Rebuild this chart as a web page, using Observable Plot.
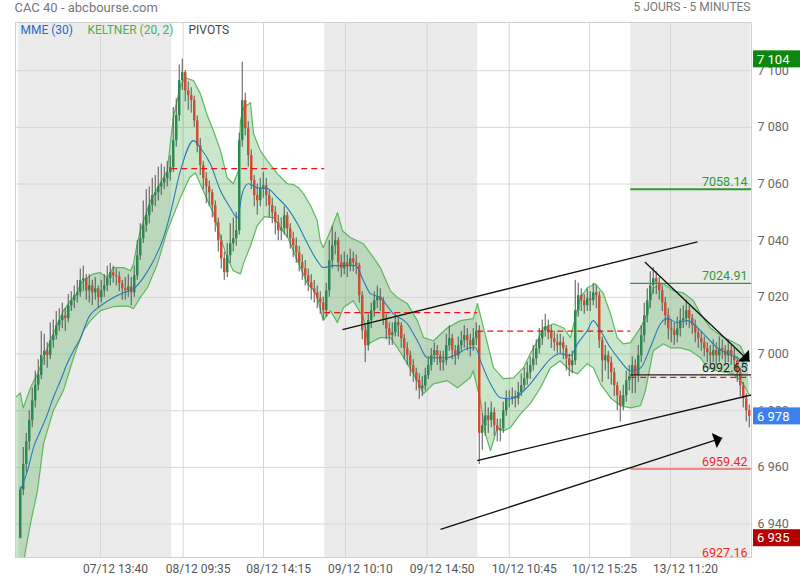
<!DOCTYPE html>
<html><head><meta charset="utf-8">
<script src="https://cdn.jsdelivr.net/npm/d3@7"></script>
<script src="https://cdn.jsdelivr.net/npm/@observablehq/plot@0.6"></script>
<style>
body{margin:0;background:#fff;font-family:Roboto,"Liberation Sans",sans-serif;}
#chart{width:800px;height:580px;}
</style></head><body><div id="chart"></div>
<script>
// ---------- DATA (10-minute candles, index j = candle number) ----------
const firstOpen = 6935;
const closes = [
 6952,6961,6969,6976.5,6983.5,6989,6992.5,6999.5,7001,6999.5,7004.7,7006.5,7010,7011.8,7013.5,7012.5,7017,7018.8,7020.6,7021.6,7025.9,7026.6,7022.3,7024.1,7021.6,7023,7019.9,7022.3,7024.1,7026.6,7028.7,7027.6,7027.3,7024.8,7023,7022.3,7023.7,7021.6,7027.6,7034.7,7040.7,7045.3,7048.8,7052.4,7055.9,7056.9,7059,7060.4,7061.9,7064,7065.8,
 7075.3,7084.1,7096.5,7099.3,7092.9,7091.2,7089.4,7082.3,7073.5,7066.5,7061.9,7059,7056.9,7052.4,7046.4,7040,7033.6,7028.7,7034.7,7038.9,7040.7,7043.5,7075.3,7089.4,7079.5,7070,7061.2,7055.9,7054.1,7058.4,7059.4,7055.9,7052.4,7049.9,7046.4,7043.5,7044.2,7048.8,7044.2,7040.7,7038.2,7035.7,7032.2,7030.1,7027.6,7025.2,7023,7021.6,7019.5,7018.1,7015.3,
 7022.3,7032.9,7038.2,7040,7032.2,7030.1,7032.2,7031.2,7033.6,7032.2,7031.2,7020.6,7008.2,7002.9,7011.8,7015.3,7018.8,7020.2,7018.8,7012.5,7008.9,7006.5,7007.5,7011.1,7010,7005.4,7001.9,6999.4,6995.9,6993.4,6990.6,6987.8,6988.8,6992.4,6995.9,6999.4,7001.2,6999.4,6996.9,6997.6,7002.9,7005.4,7001.2,6999.4,7002.9,7004.7,7006.5,7004.7,7002.9,7005.4,7008,
 6972,6974.7,6978.2,6976.5,6979.3,6974.7,6972.9,6973.6,6980,6984.2,6984.2,6984.9,6984.2,6986.4,6988.8,6991.3,6993.4,6995.9,6998.3,7001.9,7005.4,7008.2,7009.6,7007.5,7005.4,7004,7002.9,7004,7001.9,6998.3,6995.9,6997.6,7015.3,7020.6,7018.8,7017,7019.5,7018.8,7021.6,7020.6,7004.7,6997.6,6999.4,6996.9,6993.4,6988.8,6985.3,6981.8,6985.3,6990.6,6992,
 6995.9,6992.4,6999.4,7006.5,7013.5,7018.8,7024.1,7026.6,7025.2,7022.3,7018.1,7013.5,7008.9,7008.2,7006.5,7008.9,7011.8,7012.5,7015.3,7012.5,7010,7007.5,7005.4,7004,7001.9,7000.5,6999.4,7001.2,6999.4,7001.9,7001.2,6999.4,7001.2,6999.4,6997.6,6993.4,6988.8,6984.2,6980,6978
];
const highs = [
 6953,6967,6972,6980,6988,6994,6998,7008,7007,7004,7011,7012,7015,7016,7018,7016,7021,7022,7024,7026,7030,7031,7028,7028,7026,7027,7024,7026,7028,7031,7032,7031,7030,7029,7026,7027,7028,7027,7031,7040,7046,7054,7058,7059,7062,7063,7066,7067,7066,7068,7070,
 7087,7090,7102,7104,7100,7096,7094,7091,7084,7076,7068,7064,7061,7058,7054,7048,7042,7036,7039,7046,7048,7050,7078,7103,7092,7082,7072,7063,7060,7062,7064,7062,7058,7055,7052,7049,7048,7052,7050,7046,7043,7041,7038,7035,7033,7030,7028,7026,7024,7022,7020,
 7025,7040,7045,7043,7041,7035,7036,7035,7037,7036,7035,7032,7022,7010,7014,7018,7022,7024,7023,7020,7014,7011,7011,7014,7013,7011,7007,7004,7001,6998,6995,6993,6992,6995,6999,7002,7004,7003,7001,7001,7007,7010,7007,7003,7006,7008,7010,7009,7007,7009,7011,
 7010,6979,6983,6981,6983,6981,6977,6977,6983,6987,6987,6988,6987,6990,6993,6995,6997,6999,7003,7005,7009,7012,7014,7012,7010,7008,7007,7007,7006,7003,7000,7001,7026,7025,7023,7021,7023,7022,7025,7024,7022,7006,7003,7001,6999,6995,6990,6987,6989,6994,6996,
 6999,6998,7003,7010,7018,7023,7029,7030.5,7029,7027,7024,7020,7016,7012,7011,7013,7016,7017,7019,7017,7014,7012,7009,7008,7006,7004,7003,7005,7004,7006,7005,7003,7005,7003,7002,6999,6995,6990,6986,6982
];
const lows = [
 6934.8,6950,6958,6966,6974,6981,6987,6991,6996,6995,6998,7002,7005,7008,7009,7008,7011,7015,7016,7018,7020,7022,7019,7018,7017,7019,7016,7018,7020,7022,7024,7025,7024,7022,7019,7019,7020,7017,7020,7026,7033,7039,7043,7046,7050,7052,7054,7056,7058,7059,7061,
 7064,7073,7082,7093,7089,7086,7085,7080,7071,7063,7058,7053,7052,7048,7043,7036,7030,7026,7027,7032,7036,7038,7042,7073,7077,7066,7058,7052,7049,7052,7055,7052,7048,7046,7042,7040,7040,7042,7041,7037,7034,7032,7029,7026,7024,7022,7019,7018,7016,7014,7012,
 7013,7020,7030,7035,7029,7027,7028,7027,7029,7029,7028,7018,7005,6997,7001,7009,7013,7016,7015,7010,7005,7003,7003,7006,7006,7002,6998,6996,6992,6990,6987,6984,6985,6987,6991,6994,6997,6996,6994,6994,6996,7001,6998,6996,6998,7001,7002,7001,6999,7001,7003,
 6961,6966,6971,6972,6974,6971,6969,6969,6972,6978,6981,6982,6981,6982,6985,6987,6989,6991,6994,6996,7000,7003,7006,7005,7002,7001,7000,7000,6998,6994,6992,6993,6996,7013,7015,7014,7015,7015,7017,7016,7002,6990,6994,6991,6989,6985,6980,6976,6980,6983,6987,
 6986,6986,6990,6997,7004,7011,7016,7021,7021,7019,7015,7010,7005,7004,7003,7004,7006,7009,7010,7009,7007,7004,7002,7001,6999,6997,6996,6997,6996,6997,6998,6996,6997,6996,6994,6990,6985,6981,6976,6974
];
const dayStart = [0, 51, 102, 153, 204];
const dayEnd   = [51, 102, 153, 204, 244];

const tickIdx    = [26.75, 54.3, 81.1, 108.4, 135.65, 163, 189.75, 216.75];
const tickLabels = ["07/12 13:40","08/12 09:35","08/12 14:15","09/12 10:10","09/12 14:50","10/12 10:45","10/12 15:25","13/12 11:20"];

// MME (30)
const emaPts = [[0,6951.8],[2.4,6958.8],[4.4,6966.9],[6.75,6972.9],[9.1,6978.9],[11,6984.6],[13.4,6990.6],[15.75,6996.9],[17.75,7001.2],[20,7005.4],[22.75,7012.8],[26.75,7017],[31,7019.9],[34.4,7021.6],[37.75,7023],[41,7026.9],[44.4,7032.9],[47.75,7041.1],[50,7049.5],[53.4,7064.7],[57.75,7075.3],[60,7072.8],[63.4,7067.1],[66.75,7057.6],[70,7051.6],[72.4,7048.1],[74,7056.6],[76,7060.1],[79,7058.7],[82.4,7058.4],[85.75,7055.2],[89,7051.6],[92.4,7046],[95.75,7038.9],[99,7032.9],[101,7030.5],[104.4,7031.2],[109,7031.2],[111.75,7031.2],[114.4,7025.9],[116.75,7021.3],[120,7019.9],[124.4,7014.2],[129,7010.7],[132.4,7004.7],[135.75,6998.7],[142.4,6998.7],[145.75,7000.1],[150,7002.2],[151.75,7002.2],[153.4,6997.6],[156.75,6989.5],[160,6984.6],[163.4,6984.2],[166.75,6986],[170,6989.5],[173.4,6994.1],[176.75,6998.3],[180,7000.1],[183.4,6999.4],[185.75,7003.6],[189,7008.2],[191,7011.8],[193.4,7008.2],[196.75,7002.2],[200,6997.6],[203.4,6994.1],[206.75,6995.1],[210,7002.2],[213.4,7010.7],[215.75,7012.5],[219,7011.1],[222.4,7011.8],[225.75,7009.3],[229,7005.8],[232.4,7002.2],[235.75,7000.1],[239,6998.7],[242.4,6995.9]];
// KELTNER (20, 2) upper / lower
const upperPts = [[-1.6,6984.6],[0,6986.3],[1,6981],[3.4,6988.1],[5.75,6993],[7.75,6998.7],[10,7004.7],[12.4,7010.7],[14.4,7015.3],[16.75,7018.8],[19,7021.6],[20,7024.8],[22.4,7026.9],[24.4,7028.3],[26.75,7028.7],[29,7026.9],[31,7030.5],[34.4,7030.5],[36.75,7029.4],[37.75,7031.9],[39,7038.9],[40,7043.5],[43.4,7054.1],[49,7064.7],[51,7083.4],[53.4,7094.7],[55,7097.5],[57.75,7096.5],[60,7091.9],[62.4,7084.1],[64.4,7078.8],[66.75,7071.8],[69,7062.2],[71,7060.1],[72.75,7064.7],[73.4,7082.3],[74.4,7086.9],[76.75,7088.7],[77.75,7077.8],[80,7071.8],[82.4,7068.2],[85.75,7063.6],[89,7060.1],[91,7059.8],[92.75,7058.7],[94.4,7056.6],[96.75,7052.4],[99,7047.1],[100,7040],[101,7037.5],[103.4,7043.5],[105.75,7049.9],[107.4,7043.5],[110,7041.1],[114.4,7038.9],[117.75,7034],[120,7030.5],[123.4,7022.3],[125.75,7019.9],[129,7017.8],[132.4,7011.8],[134.4,7005.8],[137.75,7004.7],[142.4,7009.3],[146.75,7011.8],[151,7012.5],[152.4,7017.8],[154.4,7009.3],[157.75,6995.2],[161,6991.3],[164.4,6991.6],[167.75,6995.2],[170,7000.1],[172.4,7004.7],[174.4,7009.3],[177.75,7010.7],[181,7009.3],[183.4,7005.8],[185,7012.8],[186.75,7019.9],[189,7023.4],[191.75,7024.8],[194.4,7021.3],[196.75,7014.2],[199,7005.8],[201,7003.6],[203.4,7004],[206.75,7009.3],[209,7014.2],[211,7023.4],[214.4,7024.8],[217.75,7022.3],[221,7021.6],[224.4,7018.8],[226.75,7014.2],[230,7009.3],[233.4,7006.5],[236.75,7004.7],[240,7002.9],[242.4,6997.6]];
const lowerPts = [[-1.6,6919],[0,6917],[1.75,6930.6],[3.4,6940.1],[5.75,6951.8],[7.75,6968.3],[11,6980],[14.4,6987.1],[17.75,6998.7],[21,7008.2],[23.4,7011.8],[26.75,7015.3],[31,7016.7],[35.75,7017],[37.75,7016],[40,7019.9],[42.4,7023.4],[45.75,7031.9],[49,7043.5],[53.4,7055.2],[56.4,7062.2],[58.4,7064],[61,7057.6],[64.4,7049.5],[66.75,7041.1],[69,7034],[71,7029.4],[73.4,7028.3],[74.4,7031.9],[76.75,7038.2],[79,7045.3],[81.4,7048.5],[84.4,7048.1],[86.75,7044.6],[89.4,7040.7],[92.4,7032.9],[95.75,7024.8],[98,7022.3],[99,7019.9],[101,7011.8],[103.4,7015.3],[105.75,7011.1],[107.75,7016.4],[111,7018.8],[114.4,7012.8],[116,7003.6],[120,7005.8],[123.4,7005.8],[125.75,7002.2],[129,6996.6],[132.4,6990.6],[134.4,6986],[137.75,6989.5],[142.4,6990.6],[145.75,6988.1],[150,6991.6],[151,6994.1],[153.4,6983.5],[155,6971.9],[156.75,6965.9],[159,6974],[161,6972.9],[163.4,6974],[166.75,6978.9],[170,6982.5],[173.4,6988.1],[176.75,6995.2],[180,6997.6],[183.4,6994.1],[185.75,6993],[189,6996.6],[191,6995.2],[193.4,6989.5],[196.75,6984.6],[200,6981.8],[203.4,6981],[206.75,6981.8],[208.4,6987.1],[211,7001.2],[214.4,7003.6],[216.75,7002.2],[220,7002.2],[223.4,7001.2],[226.75,6998.7],[229,6995.2],[232.4,6994.1],[235.75,6993.4],[237.75,6993],[241,6989.5],[242.75,6986]];

// PIVOTS
const prevDayPivot = [7065.4, 7014.6, 7008.1, 6991.8];          // days 2..5 (dashed)
const pivotVals    = [7058.14, 7024.91, 6992.65, 6959.42, 6927.16];
const trendLines   = [[107.4,7008.6,225.75,7039.6],[152.3,6962.4,243.75,6985.6]];
const arrowLines   = [[140.1,6938.1,234,6970.4],[208.2,7032.5,243.1,6997.4]];
const badgeVals    = [7104, 6978, 6935];

// ---------- STYLE ----------
const xMin = -1.58, xMax = 243.75;
const pivotColors = ["#2f9a2f", "#2f9a2f", "#222", "#ee2a24", "#ee2a24"];
const pivotWidths = [2, 1.2, 1.1, 1.1, 1.1];
const badgeColors = ["#0e870e", "#3b7ff0", "#b30000"];
const arrowRot = [72, 133.5];

const fmt = d3.formatLocale({decimal: ".", thousands: " ", grouping: [3], currency: ["", ""]}).format(",d");
const candles = closes.map((c, j) => ({j, open: j === 0 ? firstOpen : closes[j - 1], close: c, high: highs[j], low: lows[j]}));
const up = candles.filter(d => d.close >= d.open);
const down = candles.filter(d => d.close < d.open);
const days = dayStart.map((s, k) => ({k, x1: s - 0.5, x2: dayEnd[k] - 0.5}));
const bandPoly = upperPts.concat(lowerPts.slice().reverse());
const prevRules = prevDayPivot.map((v, k) => ({v, x1: dayStart[k + 1] - 0.5, x2: k === 3 ? xMax : dayEnd[k + 1] - 0.5}));
const pivots = pivotVals.map((v, i) => ({v, i, label: v.toFixed(2)}));
const tickMap = new Map(tickIdx.map((t, i) => [t, tickLabels[i]]));
const arrows = arrowLines.map((a, i) => ({x1: a[0], y1: a[1], x2: a[2], y2: a[3], rot: arrowRot[i]}));

const arrowHead = {draw(ctx, size) { const r = Math.sqrt(size / Math.PI); ctx.moveTo(0, 0); ctx.lineTo(r, r * 1.05); ctx.lineTo(-r, r * 1.05); ctx.closePath(); }};

const marks = [
  Plot.rect(days.filter(d => d.k % 2 === 0), {x1: "x1", x2: "x2", fill: "#ebebeb"}),
  Plot.gridY({ticks: d3.range(6940, 7101, 20), stroke: "#d6d6d6", strokeOpacity: 1}),
  Plot.gridX({ticks: tickIdx, stroke: "#d6d6d6", strokeOpacity: 1}),
  Plot.line(bandPoly, {x: d => d[0], y: d => d[1], fill: "rgba(70,170,70,0.28)", stroke: "none", curve: "linear", clip: true}),
  Plot.line(upperPts, {x: d => d[0], y: d => d[1], stroke: "#5cb85c", strokeWidth: 1.2, clip: true}),
  Plot.line(lowerPts, {x: d => d[0], y: d => d[1], stroke: "#5cb85c", strokeWidth: 1.2, clip: true}),
  Plot.ruleX(candles, {x: "j", y1: "low", y2: "high", stroke: "#555", strokeWidth: 1, clip: true}),
  Plot.ruleX(up, {x: "j", y1: "open", y2: "close", stroke: "#2a8a52", strokeWidth: 2.5, strokeLinecap: "butt", clip: true}),
  Plot.ruleX(down, {x: "j", y1: "open", y2: "close", stroke: "#d24c32", strokeWidth: 2.5, strokeLinecap: "butt", clip: true}),
  Plot.line(emaPts, {x: d => d[0], y: d => d[1], stroke: "#2a7ab8", strokeWidth: 1.1, curve: "monotone-x"}),
  Plot.ruleY(prevRules, {y: "v", x1: "x1", x2: "x2", stroke: "#f01010", strokeWidth: 1.2, strokeDasharray: "6,4", clip: true}),
  ...pivots.map(p => Plot.ruleY([p], {y: "v", x1: dayStart[4] - 0.5, x2: xMax, stroke: pivotColors[p.i], strokeWidth: pivotWidths[p.i], clip: true})),
  ...pivots.map(p => Plot.text([p], {x: xMax, y: "v", text: "label", textAnchor: "end", dx: -4, dy: -7, fill: pivotColors[p.i], fontSize: 12.5})),
  Plot.link(trendLines, {x1: d => d[0], y1: d => d[1], x2: d => d[2], y2: d => d[3], stroke: "#111", strokeWidth: 1.3, clip: true}),
  Plot.link(arrows, {x1: "x1", y1: "y1", x2: "x2", y2: "y2", stroke: "#111", strokeWidth: 1.3}),
  Plot.dot(arrows, {x: "x2", y: "y2", symbol: arrowHead, r: 8, fill: "#000", stroke: "none", rotate: "rot"}),
  Plot.frame({stroke: "#cfcfcf"}),
  Plot.axisX({ticks: tickIdx, tickFormat: d => tickMap.get(d), tickSize: 0, tickPadding: 7, dx: 15, fill: "#555", fontSize: 12}),
  Plot.axisY({anchor: "right", ticks: d3.range(6940, 7101, 20), tickFormat: fmt, tickSize: 0, tickPadding: 6, textAnchor: "start", fill: "#666", fontSize: 12.5}),
  Plot.text(["MME (30)"], {frameAnchor: "top-left", dx: 5, dy: 3, lineAnchor: "top", textAnchor: "start", fill: "#1a6fc8", fontSize: 12}),
  Plot.text(["KELTNER (20, 2)"], {frameAnchor: "top-left", dx: 72, dy: 3, lineAnchor: "top", textAnchor: "start", fill: "#4caf50", fontSize: 12}),
  Plot.text(["PIVOTS"], {frameAnchor: "top-left", dx: 173, dy: 3, lineAnchor: "top", textAnchor: "start", fill: "#444", fontSize: 12}),
  Plot.text(["CAC 40 - abcbourse.com"], {frameAnchor: "top-left", dx: -1, dy: -20, lineAnchor: "top", textAnchor: "start", fill: "#777", fontSize: 13}),
  Plot.text(["5 JOURS - 5 MINUTES"], {frameAnchor: "top-right", dx: -1, dy: -20, lineAnchor: "top", textAnchor: "end", fill: "#777", fontSize: 12})
];

const chart = Plot.plot({
  width: 800, height: 580,
  marginTop: 22, marginBottom: 23, marginLeft: 15, marginRight: 49,
  style: {fontFamily: "Roboto, 'Liberation Sans', sans-serif", fontSize: "12px", background: "#fff", overflow: "visible"},
  x: {domain: [xMin, xMax], axis: null},
  y: {domain: [6928.2, 7117], axis: null},
  marks
});

// price badges on the right (last, high, low), positioned through Plot's y scale
const ys = chart.scale("y");
const g = d3.select(chart).append("g").attr("text-anchor", "start");
badgeVals.forEach((v, i) => {
  const y = ys.apply(v);
  g.append("rect").attr("x", 753).attr("y", y - 8.5).attr("width", 47).attr("height", 17).attr("fill", badgeColors[i]);
  g.append("text").attr("x", 757).attr("y", y).attr("dy", "0.36em").attr("fill", "#fff").attr("text-anchor", "start")
    .attr("font-size", 13).attr("font-family", "Roboto, sans-serif").text(fmt(v));
});
document.getElementById("chart").appendChild(chart);
</script>
</body></html>
